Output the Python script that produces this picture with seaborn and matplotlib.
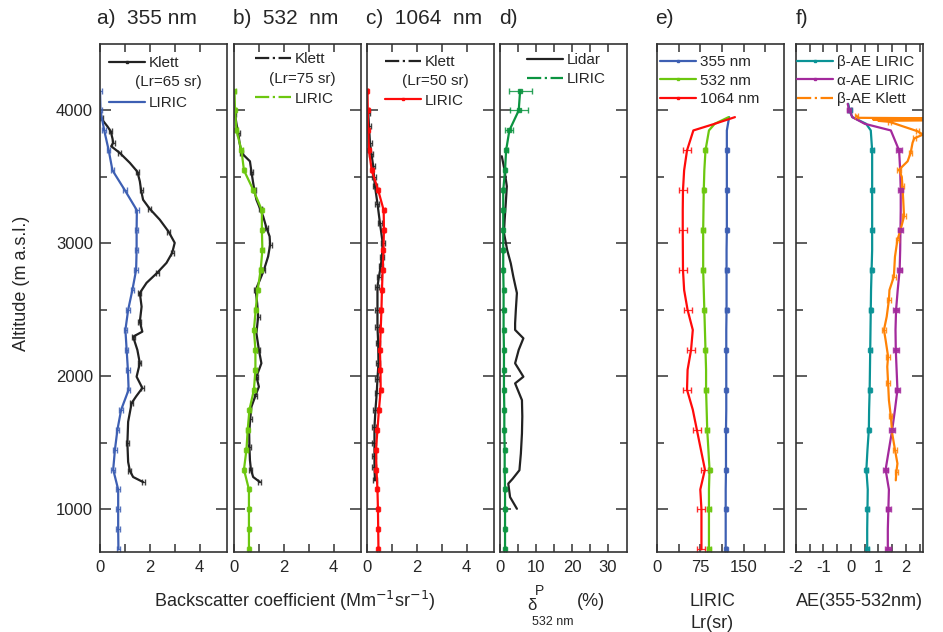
import numpy as np
import matplotlib
matplotlib.use("Agg")
import matplotlib.pyplot as plt
from matplotlib.lines import Line2D
import seaborn as sns

# ---------------- data ----------------
# LIRIC profiles on a 150 m grid (panels a-d), top -> bottom
alt_liric = [4150, 4000, 3850, 3700, 3550, 3400, 3250, 3100, 2950, 2800, 2650, 2500,
             2350, 2200, 2050, 1900, 1750, 1600, 1450, 1300, 1150, 1000, 850, 700]
liric_355 = [0.0, 0.02, 0.17, 0.35, 0.5, 1.0, 1.48, 1.47, 1.47, 1.45, 1.3, 1.13,
             1.02, 1.07, 1.12, 1.15, 0.85, 0.7, 0.6, 0.53, 0.73, 0.73, 0.73, 0.74]
liric_532 = [0.02, 0.04, 0.1, 0.3, 0.4, 0.78, 1.12, 1.12, 1.14, 1.07, 0.95, 0.87,
             0.8, 0.86, 0.86, 0.8, 0.62, 0.55, 0.5, 0.4, 0.6, 0.6, 0.6, 0.6]
liric_1064 = [0.02, 0.03, 0.05, 0.08, 0.19, 0.45, 0.67, 0.68, 0.66, 0.63, 0.6, 0.58,
              0.55, 0.52, 0.54, 0.55, 0.48, 0.42, 0.36, 0.38, 0.42, 0.44, 0.45, 0.46]
liric_depol = [5.6, 5.2, 2.6, 1.7, 1.4, 0.9, 0.9, 0.9, 0.9, 0.9, 1.0, 1.0,
               1.0, 1.1, 1.1, 1.1, 1.2, 1.2, 1.3, 1.3, 1.4, 1.4, 1.4, 1.4]
liric_depol_err = [3.2, 2.5, 1.1, 0.4, 0.3, 0.3, 0.3, 0.3, 0.3, 0.3, 0.3, 0.3,
                   0.3, 0.3, 0.3, 0.3, 0.3, 0.3, 0.3, 0.3, 0.3, 0.3, 0.3, 0.3]

# Klett profiles
klett355_alt = [3940, 3880, 3844, 3790, 3757, 3731, 3680, 3606, 3540, 3467, 3400, 3329, 3260,
                3179, 3090, 3005, 2930, 2854, 2780, 2704, 2628, 2525, 2412, 2337, 2299, 2200,
                2100, 1998, 1913, 1850, 1800, 1659, 1498, 1357, 1290, 1244, 1206]
klett355 = [0.05, 0.3, 0.43, 0.5, 0.53, 0.45, 0.8, 1.2, 1.5, 1.6, 1.65, 1.73, 2.0,
            2.4, 2.75, 3.0, 2.9, 2.67, 2.3, 1.87, 1.6, 1.67, 1.6, 1.7, 1.33, 1.5,
            1.6, 1.47, 1.7, 1.45, 1.27, 1.13, 1.1, 1.13, 1.2, 1.33, 1.73]
klett532_alt = [3970, 3900, 3832, 3760, 3681, 3618, 3540, 3455, 3400, 3329, 3260, 3204, 3120,
                3053, 2990, 2902, 2800, 2726, 2651, 2550, 2450, 2325, 2200, 2099, 1998, 1923,
                1850, 1772, 1680, 1571, 1470, 1370, 1300, 1244, 1206]
klett532 = [0.04, 0.1, 0.17, 0.22, 0.3, 0.64, 0.7, 0.77, 0.82, 0.9, 1.05, 1.17, 1.3,
            1.43, 1.45, 1.37, 1.2, 1.04, 0.87, 0.93, 0.97, 0.9, 1.0, 1.1, 0.9, 1.0,
            0.85, 0.7, 0.65, 0.61, 0.62, 0.64, 0.68, 0.77, 1.04]
klett1064_alt = [3982, 3880, 3757, 3670, 3581, 3500, 3430, 3300, 3154, 3003, 2900, 2827, 2750,
                 2676, 2500, 2375, 2250, 2099, 1980, 1873, 1750, 1621, 1500, 1400, 1320, 1219]
klett1064 = [0.05, 0.08, 0.12, 0.18, 0.25, 0.28, 0.32, 0.42, 0.52, 0.63, 0.6, 0.55, 0.48,
             0.42, 0.42, 0.42, 0.45, 0.46, 0.42, 0.39, 0.34, 0.3, 0.3, 0.3, 0.3, 0.32]

# lidar particle depolarization (%)
depol_alt = [3656, 3560, 3430, 3300, 3180, 3080, 2950, 2850, 2751, 2627, 2500, 2400, 2350, 2287,
             2200, 2099, 1998, 1948, 1822, 1700, 1571, 1420, 1295, 1230, 1194, 1093, 1005]
depol = [0.5, 1.2, 1.9, 1.6, 1.3, 1.1, 2.0, 3.0, 3.7, 4.7, 4.4, 4.2, 4.2, 6.5,
         5.2, 4.2, 6.5, 4.2, 6.1, 6.2, 6.1, 5.8, 5.4, 3.5, 2.3, 2.8, 4.7]

# LIRIC lidar ratios (sr), top -> bottom
alt_lr = [3950, 3900, 3850, 3700, 3550, 3400, 3250, 3100, 2950, 2800, 2650, 2500,
          2350, 2200, 2050, 1900, 1750, 1600, 1450, 1300, 1150, 1000, 850, 700]
lr_355 = [125, 123, 121, 121, 121, 121, 121, 121, 120.5, 120.5, 120.5, 120.5,
          120, 120, 120, 120, 120, 119.5, 119.5, 119.5, 119, 119, 119, 119]
lr_532 = [124, 100, 90, 84, 82, 81, 80.5, 80, 80, 80, 81, 82,
          83, 84, 85, 85, 86, 87, 89, 91, 90, 90, 90, 90]
lr_1064 = [135, 100, 63, 52, 47, 45, 44.6, 44.6, 44.8, 45, 47, 53,
           62, 59, 53, 52, 62, 69, 76, 83, 75, 77, 77, 77]

# Angstrom exponents, top -> bottom
alt_ae = [4050, 4000, 3950, 3900, 3850, 3700, 3550, 3400, 3250, 3100, 2950, 2800, 2650, 2500,
          2350, 2200, 2050, 1900, 1750, 1600, 1450, 1300, 1150, 1000, 850, 700]
beta_ae_liric = [-0.1, -0.05, 0.05, 0.55, 0.72, 0.77, 0.77, 0.77, 0.77, 0.77, 0.77, 0.75, 0.73,
                 0.72, 0.71, 0.7, 0.69, 0.68, 0.66, 0.65, 0.6, 0.56, 0.61, 0.6, 0.59, 0.59]
alpha_ae_liric = [-0.12, -0.06, 0.05, 0.5, 1.45, 1.75, 1.79, 1.81, 1.81, 1.8, 1.79, 1.77, 1.7,
                  1.64, 1.62, 1.63, 1.66, 1.69, 1.6, 1.5, 1.38, 1.26, 1.38, 1.36, 1.34, 1.34]
klett_ae_alt = [3962, 3945, 3940, 3933, 3928, 3922, 3915, 3880, 3844, 3819, 3790, 3757, 3681,
                3618, 3555, 3500, 3430, 3330, 3204, 3100, 3028, 2900, 2751, 2650, 2576, 2450,
                2350, 2274, 2150, 2073, 1950, 1822, 1700, 1571, 1450, 1345, 1280, 1219]
klett_ae = [0.2, 0.25, 4.0, 0.8, 4.0, 1.0, 1.4, 1.9, 2.42, 2.62, 2.3, 2.24, 2.17,
            2.06, 1.75, 1.85, 1.87, 1.9, 1.93, 1.8, 1.69, 1.6, 1.56, 1.4, 1.38, 1.3,
            1.2, 1.26, 1.35, 1.32, 1.35, 1.38, 1.45, 1.5, 1.6, 1.69, 1.65, 1.63]

# colours
c355, c532, c1064 = "#3d5fb3", "#6cc70f", "#ff0a0a"
cdep, cteal, cpurp, corange = "#0b9440", "#0a9396", "#a3299c", "#ff8205"

# ---------------- figure ----------------
sns.set_style("ticks")
plt.rcParams["font.family"] = ["Liberation Sans", "DejaVu Sans"]
plt.rcParams["axes.edgecolor"] = "#333333"
plt.rcParams["axes.linewidth"] = 1.2

W, H = 943, 632
fig = plt.figure(figsize=(W / 100, H / 100), dpi=100)
lefts = [100, 234, 367, 500, 657, 796]
axes = [fig.add_axes([l / W, 1 - 552 / H, 127 / W, 508 / H]) for l in lefts]


def profile(ax, x, y, color, err=None, marker=None, every=None, step=1, cap=2.5):
    sns.lineplot(x=x, y=y, sort=False, estimator=None, color=color, lw=1.6, ax=ax)
    if err is not None:
        xs, ys = np.asarray(x, float), np.asarray(y, float)
        es = np.broadcast_to(np.asarray(err, float), xs.shape)
        if every is None:
            m = np.arange(len(xs)) % step == 0
        else:
            m = ys % every == 100
        ax.errorbar(xs[m], ys[m], xerr=es[m], fmt=marker or "none", ms=3.5,
                    color=color, ecolor=color, elinewidth=0.9, capsize=cap, alpha=0.85)


k = "#222222"
# a) 355 nm
profile(axes[0], klett355, klett355_alt, k, err=0.06, step=2, cap=2)
profile(axes[0], liric_355, alt_liric, c355, err=0.07, marker="none")
# b) 532 nm
profile(axes[1], klett532, klett532_alt, k, err=0.06, step=2, cap=2)
profile(axes[1], liric_532, alt_liric, c532, err=0.05, marker="s")
# c) 1064 nm
profile(axes[2], klett1064, klett1064_alt, k, err=0.08, cap=2)
profile(axes[2], liric_1064, alt_liric, c1064, err=0.04, marker="s")
# d) depolarization
profile(axes[3], depol, depol_alt, k)
profile(axes[3], liric_depol, alt_liric, cdep, err=liric_depol_err, marker="s")
# e) lidar ratios
profile(axes[4], lr_355, alt_lr, c355, err=2, marker="s", every=300)
profile(axes[4], lr_532, alt_lr, c532, err=3, marker="s", every=300)
profile(axes[4], lr_1064, alt_lr, c1064, err=7, marker="none", every=300)
# f) Angstrom exponents
profile(axes[5], beta_ae_liric, alt_ae, cteal, err=0.05, marker="s", every=300)
profile(axes[5], alpha_ae_liric, alt_ae, cpurp, err=0.1, marker="s", every=300)
profile(axes[5], klett_ae, klett_ae_alt, corange, err=0.06, step=2, cap=2)

xlims = [(0, 5.1), (0, 5.1), (0, 5.1), (0, 35.3), (0, 220), (-2, 2.62)]
xmaj = [[0, 2, 4]] * 3 + [[0, 10, 20, 30], [0, 75, 150], [-2, -1, 0, 1, 2]]
xmin = [[1, 3]] * 3 + [[5, 15, 25], [37.5, 112.5, 187.5], [-1.5, -0.5, 0.5, 1.5, 2.5]]

for i, ax in enumerate(axes):
    ax.set_xlim(*xlims[i])
    ax.set_ylim(680, 4500)
    ax.set_xticks(xmaj[i])
    ax.set_xticks(xmin[i], minor=True)
    ax.set_yticks([1000, 2000, 3000, 4000])
    ax.set_yticks([1500, 2500, 3500], minor=True)
    ax.set_xlabel("")
    ax.set_ylabel("")
    ax.tick_params(which="both", direction="in", top=True, right=True,
                   labelsize=12, width=1.1, color="#333333", pad=6)
    ax.tick_params(axis="y", which="major", length=8)
    ax.tick_params(axis="y", which="minor", length=5)
    ax.tick_params(axis="x", which="both", length=6)
    if i > 0:
        ax.set_yticklabels([])
    ax.set_xticklabels([str(t) for t in xmaj[i]])
    ax.tick_params(axis="y", pad=5)

# legends
leg_specs = [
    ([Line2D([], [], color=k, lw=1.6, marker="s", ms=2),
      Line2D([], [], color=c355, lw=1.6)], ["Klett", "LIRIC"], 0.071, 0.976, 1.68),
    ([Line2D([], [], color=k, lw=1.6, ls="-."),
      Line2D([], [], color=c532, lw=1.6, ls="-.")], ["Klett", "LIRIC"], 0.165, 0.984, 1.68),
    ([Line2D([], [], color=k, lw=1.6, ls="-."),
      Line2D([], [], color=c1064, lw=1.6, marker="s", ms=2)], ["Klett", "LIRIC"], 0.142, 0.978, 1.6),
    ([Line2D([], [], color=k, lw=1.6),
      Line2D([], [], color=cdep, lw=1.6, ls="-.")], ["Lidar", "LIRIC"], 0.213, 0.982, 0.32),
    ([Line2D([], [], color=c355, lw=1.6, marker="s", ms=2),
      Line2D([], [], color=c532, lw=1.6, marker="s", ms=2),
      Line2D([], [], color=c1064, lw=1.6, marker="s", ms=2)],
     ["355 nm", "532 nm", "1064 nm"], 0.024, 0.978, 0.3),
    ([Line2D([], [], color=cteal, lw=1.6, marker="s", ms=2),
      Line2D([], [], color=cpurp, lw=1.6, marker="s", ms=2),
      Line2D([], [], color=corange, lw=1.6, ls="-.")],
     ["β-AE LIRIC", "α-AE LIRIC", "β-AE Klett"], 0.008, 0.978, 0.3),
]
for ax, (hs, ls, hx, hy, sp) in zip(axes, leg_specs):
    ax.legend(hs, ls, loc="upper left", bbox_to_anchor=(hx, hy), frameon=False,
              fontsize=11, borderpad=0, borderaxespad=0, handlelength=2.35,
              handletextpad=0.25, labelspacing=sp)

lr_y = [0.925, 0.932, 0.928]
for ax, lr, yy in zip(axes[:3], ["(Lr=65 sr)", "(Lr=75 sr)", "(Lr=50 sr)"], lr_y):
    ax.text(0.276, yy, lr, transform=ax.transAxes, fontsize=11, va="center", ha="left")

# panel titles
titles = ["a)  355 nm", "b)  532  nm", "c)  1064  nm", "d)", "e)", "f)"]
tx = [97, 233, 366, 499, 655, 796]
for t, x in zip(titles, tx):
    fig.text(x / W, 1 - 18 / H, t, fontsize=15, va="center", ha="left")

# axis labels
fig.text(22 / W, 1 - 283 / H, "Altitude (m a.s.l.)", rotation=90, fontsize=13,
         va="center", ha="center")
fig.text(295 / W, 1 - 601 / H, "Backscatter coefficient (Mm$^{-1}$sr$^{-1}$)",
         fontsize=13, va="center", ha="center")
fig.text(532 / W, 1 - 606 / H, "δ", fontsize=12, va="center", ha="center")
fig.text(539 / W, 1 - 591 / H, "P", fontsize=10, va="center", ha="center")
fig.text(553 / W, 1 - 622 / H, "532 nm", fontsize=9, va="center", ha="center")
fig.text(591 / W, 1 - 601 / H, "(%)", fontsize=13, va="center", ha="center")
fig.text(712 / W, 1 - 601 / H, "LIRIC", fontsize=13, va="center", ha="center")
fig.text(712 / W, 1 - 623 / H, "Lr(sr)", fontsize=13, va="center", ha="center")
fig.text(859 / W, 1 - 601 / H, "AE(355-532nm)", fontsize=13, va="center", ha="center")

fig.savefig("out.png", dpi=100)
